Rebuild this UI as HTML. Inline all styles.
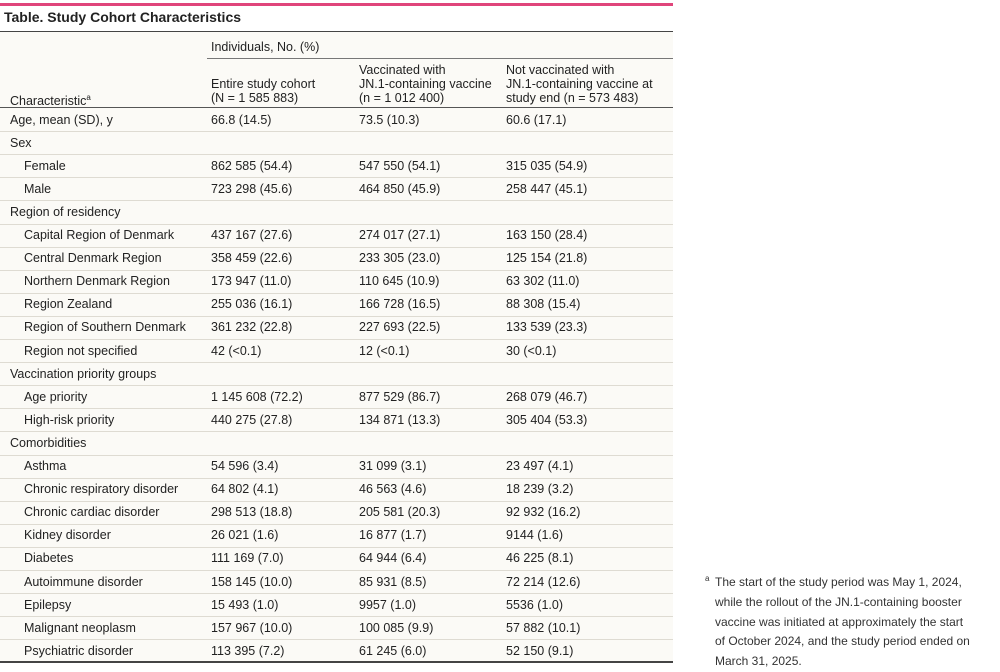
<!DOCTYPE html>
<html><head><meta charset="utf-8"><style>
body{margin:0;width:1000px;height:668px;background:#fff;font-family:"Liberation Sans",sans-serif;color:#222;position:relative;overflow:hidden}
.a{position:absolute;white-space:nowrap;font-size:12.5px;line-height:14px}
.ln{position:absolute;height:1px}
</style></head><body>
<div class="ln" style="left:0;top:3px;width:673px;height:3px;background:#e0457b"></div>
<div class="a" style="left:4px;top:10px;font-size:14px;font-weight:bold;color:#222">Table. Study Cohort Characteristics</div>
<div class="ln" style="left:0;top:31px;width:673px;background:#444"></div>
<div style="position:absolute;left:0;top:32px;width:673px;height:630px;background:#fbfaf6"></div>
<div class="a" style="left:211px;top:40px">Individuals, No. (%)</div>
<div class="ln" style="left:207px;top:58px;width:466px;background:#777"></div>
<div class="a" style="left:10px;top:91px">Characteristic<sup style="font-size:8px">a</sup></div>
<div class="a" style="left:211px;top:77px">Entire study cohort<br>(N = 1 585 883)</div>
<div class="a" style="left:359px;top:63px">Vaccinated with<br>JN.1-containing vaccine<br>(n = 1 012 400)</div>
<div class="a" style="left:506px;top:63px">Not vaccinated with<br>JN.1-containing vaccine at<br>study end (n = 573 483)</div>
<div class="ln" style="left:0;top:107px;width:673px;background:#555"></div>
<div id="rows"></div>
<div class="ln" style="left:0;top:661px;width:673px;height:2px;background:#444"></div>
<div class="a" style="left:715px;top:573px;font-size:12px;line-height:19.8px;color:#333"><sup style="font-size:8px;position:absolute;left:-10px;top:-4px">a</sup>The start of the study period was May 1, 2024,<br>while the rollout of the JN.1-containing booster<br>vaccine was initiated at approximately the start<br>of October 2024, and the study period ended on<br>March 31, 2025.</div>
<script>
const rows=[
["Age, mean (SD), y",0,"66.8 (14.5)","73.5 (10.3)","60.6 (17.1)"],
["Sex",0,"","",""],
["Female",1,"862 585 (54.4)","547 550 (54.1)","315 035 (54.9)"],
["Male",1,"723 298 (45.6)","464 850 (45.9)","258 447 (45.1)"],
["Region of residency",0,"","",""],
["Capital Region of Denmark",1,"437 167 (27.6)","274 017 (27.1)","163 150 (28.4)"],
["Central Denmark Region",1,"358 459 (22.6)","233 305 (23.0)","125 154 (21.8)"],
["Northern Denmark Region",1,"173 947 (11.0)","110 645 (10.9)","63 302 (11.0)"],
["Region Zealand",1,"255 036 (16.1)","166 728 (16.5)","88 308 (15.4)"],
["Region of Southern Denmark",1,"361 232 (22.8)","227 693 (22.5)","133 539 (23.3)"],
["Region not specified",1,"42 (<0.1)","12 (<0.1)","30 (<0.1)"],
["Vaccination priority groups",0,"","",""],
["Age priority",1,"1 145 608 (72.2)","877 529 (86.7)","268 079 (46.7)"],
["High-risk priority",1,"440 275 (27.8)","134 871 (13.3)","305 404 (53.3)"],
["Comorbidities",0,"","",""],
["Asthma",1,"54 596 (3.4)","31 099 (3.1)","23 497 (4.1)"],
["Chronic respiratory disorder",1,"64 802 (4.1)","46 563 (4.6)","18 239 (3.2)"],
["Chronic cardiac disorder",1,"298 513 (18.8)","205 581 (20.3)","92 932 (16.2)"],
["Kidney disorder",1,"26 021 (1.6)","16 877 (1.7)","9144 (1.6)"],
["Diabetes",1,"111 169 (7.0)","64 944 (6.4)","46 225 (8.1)"],
["Autoimmune disorder",1,"158 145 (10.0)","85 931 (8.5)","72 214 (12.6)"],
["Epilepsy",1,"15 493 (1.0)","9957 (1.0)","5536 (1.0)"],
["Malignant neoplasm",1,"157 967 (10.0)","100 085 (9.9)","57 882 (10.1)"],
["Psychiatric disorder",1,"113 395 (7.2)","61 245 (6.0)","52 150 (9.1)"]];
const host=document.getElementById('rows');
const rowH=23.1, top0=108;
rows.forEach((r,i)=>{
  const y=top0+i*rowH;
  const lab=document.createElement('div');
  lab.className='a';
  lab.style.left=(r[1]?24:10)+'px';lab.style.top=(y+4.5)+'px';
  lab.textContent=r[0];
  
  
  host.appendChild(lab);
  [211,359,506].forEach((x,j)=>{
    if(!r[j+2])return;
    const c=document.createElement('div');
    c.className='a';c.style.left=x+'px';c.style.top=(y+4.5)+'px';c.textContent=r[j+2];
    
    
    host.appendChild(c);
  });
  if(i<rows.length-1){
    const l=document.createElement('div');
    l.className='ln';l.style.left='0';l.style.width='673px';l.style.top=(y+rowH)+'px';l.style.background='#dedbd2';
    
    
    host.appendChild(l);
  }
});
</script>
</body></html>
